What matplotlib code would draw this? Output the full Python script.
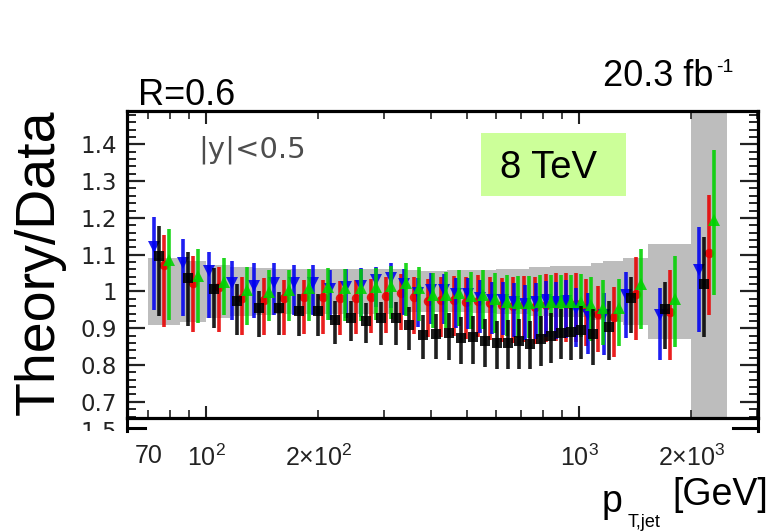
import matplotlib
matplotlib.use("Agg")
import matplotlib.pyplot as plt
from matplotlib.ticker import FixedLocator, FixedFormatter
from matplotlib.transforms import Bbox
from matplotlib.lines import Line2D
from matplotlib.patches import Rectangle

plt.rcParams["font.family"] = ["Liberation Sans", "DejaVu Sans"]
plt.rcParams["mathtext.fontset"] = "custom"
plt.rcParams["mathtext.rm"] = "Liberation Sans"
plt.rcParams["mathtext.it"] = "Liberation Sans:italic"
plt.rcParams["mathtext.bf"] = "Liberation Sans:bold"

# jet pT bin edges [GeV]
pt_edges = [70, 85, 100, 116, 134, 152, 172, 194, 216, 240, 264, 290, 318, 346,
            376, 408, 442, 478, 516, 556, 598, 642, 688, 736, 786, 838, 894,
            952, 1012, 1076, 1162, 1310, 1530, 1992, 2500]

# relative half-width of the experimental uncertainty band around 1
data_unc = [0.092, 0.082, 0.072, 0.066, 0.063, 0.062, 0.062, 0.062, 0.062, 0.062,
            0.062, 0.062, 0.060, 0.057, 0.055, 0.055, 0.057, 0.057, 0.058, 0.058,
            0.060, 0.060, 0.060, 0.067, 0.067, 0.069, 0.069, 0.069, 0.069, 0.078,
            0.084, 0.090, 0.128, 1.000]

# theory / data ratios (central values and asymmetric uncertainties)
ratio_black = [1.097, 1.036, 1.006, 0.974, 0.954, 0.954, 0.948, 0.948, 0.923, 0.927,
               0.920, 0.927, 0.927, 0.909, 0.882, 0.885, 0.886, 0.873, 0.876, 0.865,
               0.859, 0.861, 0.864, 0.857, 0.870, 0.878, 0.886, 0.889, 0.894, 0.883,
               0.903, 0.982, 0.952, 1.020]
up_black = [0.081, 0.070, 0.058, 0.045, 0.048, 0.045, 0.045, 0.045, 0.050, 0.048,
            0.048, 0.045, 0.045, 0.050, 0.055, 0.055, 0.055, 0.058, 0.058, 0.060,
            0.062, 0.062, 0.062, 0.064, 0.064, 0.064, 0.065, 0.065, 0.066, 0.068,
            0.070, 0.058, 0.075, 0.129]
dn_black = [0.165, 0.130, 0.106, 0.092, 0.077, 0.072, 0.070, 0.070, 0.066, 0.063,
            0.061, 0.072, 0.072, 0.068, 0.066, 0.069, 0.071, 0.070, 0.072, 0.070,
            0.070, 0.072, 0.075, 0.068, 0.073, 0.072, 0.070, 0.075, 0.077, 0.082,
            0.088, 0.096, 0.109, 0.143]

ratio_red = [1.072, 1.022, 1.013, 0.981, 0.977, 0.981, 0.984, 0.985, 0.982, 0.983,
             0.986, 0.988, 0.995, 0.985, 0.975, 0.977, 0.978, 0.972, 0.975, 0.968,
             0.962, 0.960, 0.962, 0.958, 0.962, 0.965, 0.965, 0.965, 0.955, 0.940,
             0.930, 0.993, 0.945, 1.104]
up_red = [0.082, 0.073, 0.054, 0.059, 0.060, 0.050, 0.047, 0.047, 0.047, 0.047,
          0.048, 0.050, 0.052, 0.055, 0.060, 0.062, 0.065, 0.068, 0.070, 0.072,
          0.075, 0.078, 0.080, 0.082, 0.085, 0.085, 0.085, 0.085, 0.080, 0.075,
          0.083, 0.100, 0.113, 0.158]
dn_red = [0.168, 0.131, 0.122, 0.099, 0.095, 0.100, 0.100, 0.100, 0.100, 0.100,
          0.100, 0.100, 0.100, 0.100, 0.100, 0.100, 0.100, 0.100, 0.100, 0.100,
          0.100, 0.100, 0.100, 0.100, 0.100, 0.100, 0.102, 0.102, 0.104, 0.105,
          0.107, 0.125, 0.131, 0.168]

ratio_blue = [1.122, 1.078, 1.056, 1.022, 1.015, 1.022, 1.022, 1.022, 1.008, 1.012,
              1.015, 1.030, 1.036, 1.020, 0.996, 1.004, 1.003, 0.992, 0.992, 0.983,
              0.978, 0.977, 0.972, 0.966, 0.972, 0.977, 0.972, 0.975, 0.952, 0.936,
              0.935, 0.990, 0.936, 1.058]
up_blue = [0.081, 0.064, 0.052, 0.062, 0.063, 0.055, 0.050, 0.050, 0.050, 0.050,
           0.050, 0.037, 0.040, 0.040, 0.041, 0.045, 0.045, 0.045, 0.045, 0.047,
           0.048, 0.048, 0.050, 0.052, 0.052, 0.052, 0.053, 0.055, 0.057, 0.060,
           0.060, 0.064, 0.073, 0.118]
dn_blue = [0.172, 0.146, 0.129, 0.099, 0.087, 0.086, 0.086, 0.085, 0.085, 0.085,
           0.085, 0.072, 0.080, 0.085, 0.092, 0.092, 0.092, 0.092, 0.094, 0.095,
           0.095, 0.095, 0.097, 0.098, 0.100, 0.100, 0.100, 0.102, 0.104, 0.105,
           0.109, 0.117, 0.122, 0.167]

ratio_green = [1.086, 1.042, 1.027, 1.004, 0.999, 1.004, 1.009, 1.013, 1.009, 1.009,
               1.012, 1.015, 1.022, 1.009, 0.990, 0.990, 0.995, 0.988, 0.990, 0.979,
               0.972, 0.968, 0.968, 0.972, 0.972, 0.972, 0.972, 0.972, 0.963, 0.954,
               0.955, 1.020, 0.980, 1.194]
up_green = [0.083, 0.073, 0.063, 0.062, 0.058, 0.055, 0.052, 0.052, 0.052, 0.052,
            0.052, 0.055, 0.055, 0.058, 0.060, 0.062, 0.064, 0.066, 0.068, 0.070,
            0.072, 0.073, 0.073, 0.073, 0.073, 0.073, 0.074, 0.075, 0.076, 0.078,
            0.080, 0.095, 0.115, 0.191]
dn_green = [0.163, 0.128, 0.091, 0.095, 0.078, 0.085, 0.090, 0.090, 0.090, 0.090,
            0.090, 0.090, 0.090, 0.090, 0.090, 0.090, 0.090, 0.090, 0.092, 0.092,
            0.092, 0.094, 0.094, 0.095, 0.095, 0.095, 0.096, 0.096, 0.098, 0.100,
            0.102, 0.123, 0.130, 0.204]

x_major = [100, 1000]
x_major_labels = [r"$10^{2}$", r"$10^{3}$"]
x_minor = [70, 80, 90, 200, 300, 400, 500, 600, 700, 800, 900, 2000, 3000]
x_minor_labels = ["70", "", "", r"$2{\times}10^{2}$", "", "", "", "", "", "", "",
                  r"$2{\times}10^{3}$", ""]
y_major = [0.7, 0.8, 0.9, 1.0, 1.1, 1.2, 1.3, 1.4]
y_major_labels = ["0.7", "0.8", "0.9", "1", "1.1", "1.2", "1.3", "1.4"]

W, H = 774, 531
fig = plt.figure(figsize=(W / 100, H / 100), dpi=100)


def fx(px):
    return px / W


def fy(py):
    return 1 - py / H


ax = fig.add_axes([fx(127), fy(418), fx(758) - fx(127), fy(111) - fy(418)])
ax.set_zorder(3)
ax.set_xscale("log")
ax.set_xlim(61.4, 3020)
ax.set_ylim(0.656, 1.4905)

# experimental uncertainty band
band_lo = [1 - u for u in data_unc] + [1 - data_unc[-1]]
band_hi = [1 + u for u in data_unc] + [1 + data_unc[-1]]
ax.fill_between(pt_edges, band_lo, band_hi, step="post", color="#bdbdbd",
                lw=0, zorder=1)

# bin centres (log) and small horizontal offsets per prediction
centres = [(a * b) ** 0.5 for a, b in zip(pt_edges[:-1], pt_edges[1:])]
decade_px = 373.0
series = [
    (ratio_red, up_red, dn_red, "#e80000", "o", 6.8, 0.5, 3),
    (ratio_blue, up_blue, dn_blue, "#0000f0", "v", 8.0, -9.5, 4),
    (ratio_green, up_green, dn_green, "#00d200", "^", 8.0, 5.5, 5),
    (ratio_black, up_black, dn_black, "black", "s", 7.2, -4.5, 6),
]
for vals, up, dn, col, mk, ms, off, z in series:
    f = 10 ** (off / decade_px)
    xs = [c * f for c in centres]
    ax.errorbar(xs, vals, yerr=[dn, up], fmt=mk, color=col, ms=ms, mew=0,
                elinewidth=2.6, capsize=0, alpha=0.88, zorder=z)

# axes styling
for sp in ax.spines.values():
    sp.set_linewidth(2.3)
ax.xaxis.set_major_locator(FixedLocator(x_major))
ax.xaxis.set_major_formatter(FixedFormatter(x_major_labels))
ax.xaxis.set_minor_locator(FixedLocator(x_minor))
ax.xaxis.set_minor_formatter(FixedFormatter(x_minor_labels))
ax.yaxis.set_major_locator(FixedLocator(y_major))
ax.yaxis.set_major_formatter(FixedFormatter(y_major_labels))
ax.yaxis.set_minor_locator(FixedLocator([0.66 + 0.02 * i for i in range(42)]))

ax.tick_params(axis="x", which="major", direction="in", length=9, width=1.5,
               top=True, bottom=True, labelsize=18, pad=19, colors="#222222")
ax.tick_params(axis="x", which="minor", direction="in", length=5.5, width=1.2,
               top=True, bottom=True, labelsize=18, pad=19, colors="#222222")
ax.tick_params(axis="y", which="major", direction="in", length=13, width=1.6,
               left=True, right=True, labelsize=16.5, pad=7, colors="#222222")
ax.tick_params(axis="y", which="minor", direction="in", length=6.5, width=1.2,
               left=True, right=True)
for lab in ax.get_yticklabels():
    lab.set_family("DejaVu Sans")

# in-plot annotations
ax.text(fx(198), fy(157), "|y|<0.5", transform=fig.transFigure,
        family="DejaVu Sans", fontsize=21, color="#4d4d4d", va="baseline",
        zorder=10)
fig.patches.append(Rectangle((fx(481), fy(196)), fx(626) - fx(481),
                             fy(133) - fy(196), transform=fig.transFigure,
                             facecolor="#ccff99", edgecolor="none", zorder=4))
fig.text(fx(500), fy(178), "8 TeV", fontsize=27.5, va="baseline", zorder=5)

# labels around the frame
fig.text(fx(138), fy(105), "R=0.6", fontsize=26, va="baseline")
fig.text(fx(603), fy(86), "20.3 fb", fontsize=26, va="baseline")
fig.text(fx(716), fy(59), "-1", fontsize=14, va="top")
fig.text(fx(54), fy(262), "Theory/Data", fontsize=40, rotation=90,
         rotation_mode="anchor", ha="center", va="baseline")
fig.text(fx(602), fy(512), "p", fontsize=27, va="baseline")
fig.text(fx(628), fy(527), "T,jet", fontsize=13, va="baseline")
fig.text(fx(672), fy(505), "[GeV]", fontsize=27, va="baseline")

# edge of the panel below
clip = Bbox.from_extents(0, fy(431) * H, W, fy(418) * H)
t = fig.text(fx(117), fy(421), "1.5", family="DejaVu Sans", fontsize=16.5,
             color="#222222", ha="right", va="top")
t.set_clip_box(clip)
for xs_, ys_ in [((127, 127), (418, 431)), ((758, 758), (418, 431)),
                 ((127, 145), (428, 428)), ((733, 758), (428, 428))]:
    fig.lines.append(Line2D([fx(v) for v in xs_], [fy(v) for v in ys_],
                            transform=fig.transFigure, color="black", lw=2.2))

fig.savefig("out.png", dpi=100)
